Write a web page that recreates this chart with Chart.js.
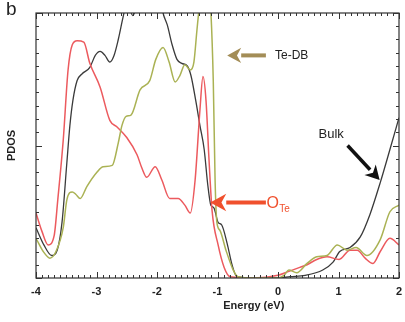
<!DOCTYPE html>
<html>
<head>
<meta charset="utf-8">
<script src="https://cdn.jsdelivr.net/npm/chart.js@4.4.1/dist/chart.umd.min.js"></script>
<style>
  html, body { margin: 0; padding: 0; background: #fff; }
  #wrap { width: 405px; height: 322px; position: relative; }
</style>
</head>
<body>
<div id="wrap"><canvas id="pdosChart"></canvas></div>
<script>
// energy axis ticks
const xTicks = [-4, -3, -2, -1, 0, 1, 2];

// Bulk (black)
const bulkE = [-4.00, -3.87, -3.74, -3.65, -3.57, -3.49, -3.44, -3.39, -3.32, -3.24, -3.11, -3.02, -2.94, -2.86, -2.78, -2.71, -2.64, -2.56, -2.50, -2.45, -2.40, -2.35, -2.20, -2.00, -1.90, -1.83, -1.75, -1.67, -1.59, -1.50, -1.44, -1.36, -1.29, -1.22, -1.16, -1.11, -1.06, -0.99, -0.93, -0.84, -0.76, -0.68, -0.40, 0.00, 0.20, 0.45, 0.74, 0.91, 1.02, 1.19, 1.36, 1.52, 1.69, 1.85, 2.00];
const bulkD = [0.38, 0.25, 0.17, 0.21, 0.42, 0.87, 1.15, 1.34, 1.49, 1.54, 1.59, 1.68, 1.71, 1.68, 1.63, 1.68, 1.80, 1.97, 2.08, 2.03, 1.98, 2.03, 2.30, 2.25, 2.00, 1.91, 1.76, 1.65, 1.62, 1.60, 1.53, 1.34, 1.15, 0.97, 0.70, 0.55, 0.53, 0.42, 0.40, 0.26, 0.10, 0.01, 0.00, 0.00, 0.01, 0.02, 0.06, 0.12, 0.20, 0.23, 0.31, 0.48, 0.72, 0.97, 1.21];

// Te-DB (olive)
const tedbE = [-4.00, -3.88, -3.77, -3.67, -3.55, -3.49, -3.40, -3.34, -3.27, -3.16, -2.99, -2.89, -2.74, -2.64, -2.58, -2.51, -2.43, -2.28, -2.12, -2.02, -1.90, -1.80, -1.70, -1.62, -1.54, -1.45, -1.39, -1.34, -1.29, -1.21, -1.12, -1.07, -1.04, -1.01, -0.96, -0.86, -0.74, -0.66, -0.40, 0.00, 0.10, 0.18, 0.31, 0.48, 0.64, 0.81, 0.98, 1.14, 1.29, 1.47, 1.69, 1.85, 2.00];
const tedbD = [0.30, 0.20, 0.15, 0.20, 0.38, 0.59, 0.65, 0.63, 0.60, 0.69, 0.80, 0.84, 0.85, 1.02, 1.15, 1.22, 1.23, 1.42, 1.49, 1.65, 1.74, 1.63, 1.48, 1.53, 1.61, 1.57, 1.63, 1.87, 2.10, 2.40, 2.10, 1.49, 0.74, 0.42, 0.36, 0.21, 0.06, 0.01, 0.00, 0.00, 0.02, 0.06, 0.04, 0.11, 0.16, 0.17, 0.25, 0.21, 0.23, 0.17, 0.29, 0.50, 0.55];

// O_Te (red)
const oteE = [-4.00, -3.90, -3.80, -3.70, -3.64, -3.55, -3.47, -3.40, -3.32, -3.21, -3.11, -2.94, -2.78, -2.66, -2.50, -2.33, -2.25, -2.17, -2.03, -1.92, -1.79, -1.65, -1.54, -1.45, -1.37, -1.29, -1.24, -1.19, -1.14, -1.09, -0.99, -0.89, -0.79, -0.40, 0.00, 0.18, 0.36, 0.48, 0.64, 0.81, 1.01, 1.19, 1.31, 1.44, 1.57, 1.69, 1.85, 2.00];
const oteD = [0.49, 0.35, 0.25, 0.32, 0.59, 1.04, 1.57, 1.76, 1.79, 1.78, 1.62, 1.44, 1.19, 1.14, 1.06, 0.93, 0.83, 0.76, 0.84, 0.74, 0.60, 0.60, 0.55, 0.49, 0.74, 1.27, 1.52, 1.34, 0.89, 0.51, 0.25, 0.08, 0.01, 0.00, 0.02, 0.05, 0.08, 0.10, 0.14, 0.16, 0.14, 0.21, 0.21, 0.15, 0.11, 0.20, 0.30, 0.25];

function pts(xs, ys) {
    return xs.map((x, i) => ({ x: x, y: ys[i] }));
}

// frame, inward ticks, labels and arrows
const framePlugin = {
    id: 'frame',
    afterDatasetsDraw(chart) {
        const ctx = chart.ctx;
        const a = chart.chartArea;
        const xs = chart.scales.x;
        const ys = chart.scales.y;
        ctx.save();
        ctx.strokeStyle = '#333';
        ctx.lineWidth = 1.2;
        ctx.strokeRect(a.left, a.top, a.right - a.left, a.bottom - a.top);

        ctx.lineWidth = 1;
        // x minor/major ticks, bottom and top
        for (let i = 0; i <= 60; i++) {
            const v = -4 + i * 0.1;
            const px = Math.round(xs.getPixelForValue(v)) + 0.5;
            const len = (i % 10 === 0) ? 6 : 3;
            ctx.beginPath();
            ctx.moveTo(px, a.bottom); ctx.lineTo(px, a.bottom - len);
            ctx.moveTo(px, a.top); ctx.lineTo(px, a.top + len);
            ctx.stroke();
        }
        // y ticks, left and right
        for (let i = 0; i <= 20; i++) {
            const v = i * 0.1;
            const py = Math.round(ys.getPixelForValue(v)) + 0.5;
            const len = (i % 10 === 0) ? 6 : 3;
            ctx.beginPath();
            ctx.moveTo(a.left, py); ctx.lineTo(a.left + len, py);
            ctx.moveTo(a.right, py); ctx.lineTo(a.right - len, py);
            ctx.stroke();
        }

        // tick labels
        ctx.fillStyle = '#222';
        ctx.font = 'bold 11px "Liberation Sans", Arial, sans-serif';
        ctx.textAlign = 'center';
        ctx.textBaseline = 'middle';
        xTicks.forEach(t => {
            ctx.fillText(String(t), xs.getPixelForValue(t), a.bottom + 14);
        });

        // axis titles
        ctx.font = 'bold 11px "Liberation Sans", Arial, sans-serif';
        ctx.fillText('Energy (eV)', xs.getPixelForValue(-0.4), a.bottom + 28);
        ctx.save();
        ctx.translate(12, ys.getPixelForValue(1));
        ctx.rotate(-Math.PI / 2);
        ctx.fillText('PDOS', 0, 0);
        ctx.restore();

        ctx.textAlign = 'left';
        ctx.font = '19px "Liberation Sans", Arial, sans-serif';
        ctx.fillText('b', 6, 10);

        // arrows
        function arrow(x1, y1, x2, y2, color, w, head) {
            const ang = Math.atan2(y2 - y1, x2 - x1);
            const bx = x2 - Math.cos(ang) * head;
            const by = y2 - Math.sin(ang) * head;
            ctx.strokeStyle = color;
            ctx.fillStyle = color;
            ctx.lineWidth = w;
            ctx.beginPath();
            ctx.moveTo(x1, y1); ctx.lineTo(bx, by);
            ctx.stroke();
            ctx.beginPath();
            ctx.moveTo(x2, y2);
            ctx.lineTo(bx + Math.cos(ang + Math.PI / 2) * head * 0.55, by + Math.sin(ang + Math.PI / 2) * head * 0.55);
            ctx.lineTo(bx + Math.cos(ang) * head * 0.3, by + Math.sin(ang) * head * 0.3);
            ctx.lineTo(bx + Math.cos(ang - Math.PI / 2) * head * 0.55, by + Math.sin(ang - Math.PI / 2) * head * 0.55);
            ctx.closePath();
            ctx.fill();
        }

        const tdY = ys.getPixelForValue(1.68);
        arrow(xs.getPixelForValue(-0.2), tdY, xs.getPixelForValue(-0.84), tdY, '#a38d57', 4, 14);
        ctx.fillStyle = '#222';
        ctx.font = '12px "Liberation Sans", Arial, sans-serif';
        ctx.textBaseline = 'middle';
        ctx.fillText('Te-DB', xs.getPixelForValue(-0.05), tdY);

        const oY = ys.getPixelForValue(0.57);
        arrow(xs.getPixelForValue(-0.2), oY, xs.getPixelForValue(-1.12), oY, '#f0502d', 4, 16);
        ctx.fillStyle = '#f0502d';
        ctx.font = '16px "Liberation Sans", Arial, sans-serif';
        ctx.fillText('O', xs.getPixelForValue(-0.19), oY + 1);
        ctx.font = '10px "Liberation Sans", Arial, sans-serif';
        ctx.fillText('Te', xs.getPixelForValue(0.02), oY + 7);

        arrow(xs.getPixelForValue(1.15), ys.getPixelForValue(1.0), xs.getPixelForValue(1.68), ys.getPixelForValue(0.74), '#111', 3.5, 14);
        ctx.fillStyle = '#222';
        ctx.font = '13px "Liberation Sans", Arial, sans-serif';
        ctx.fillText('Bulk', xs.getPixelForValue(0.67), ys.getPixelForValue(1.08));

        ctx.restore();
    }
};

const ctx = document.getElementById('pdosChart').getContext('2d');
new Chart(ctx, {
    type: 'line',
    data: {
        datasets: [
            {
                label: 'Te-DB',
                data: pts(tedbE, tedbD),
                borderColor: '#aab254',
                borderWidth: 1.5,
                pointRadius: 0,
                tension: 0.35,
                cubicInterpolationMode: 'monotone'
            },
            {
                label: 'O_Te',
                data: pts(oteE, oteD),
                borderColor: '#ec5a5e',
                borderWidth: 1.5,
                pointRadius: 0,
                cubicInterpolationMode: 'monotone'
            },
            {
                label: 'Bulk',
                data: pts(bulkE, bulkD),
                borderColor: '#3a3a3a',
                borderWidth: 1.3,
                pointRadius: 0,
                cubicInterpolationMode: 'monotone'
            }
        ]
    },
    options: {
        responsive: true,
        maintainAspectRatio: false,
        animation: false,
        layout: {
            padding: { left: 36, top: 13, right: 6, bottom: 44 }
        },
        plugins: {
            legend: { display: false },
            tooltip: { enabled: false }
        },
        scales: {
            x: { type: 'linear', min: -4, max: 2, display: false },
            y: { min: 0, max: 2, display: false }
        }
    },
    plugins: [framePlugin]
});
</script>
</body>
</html>
